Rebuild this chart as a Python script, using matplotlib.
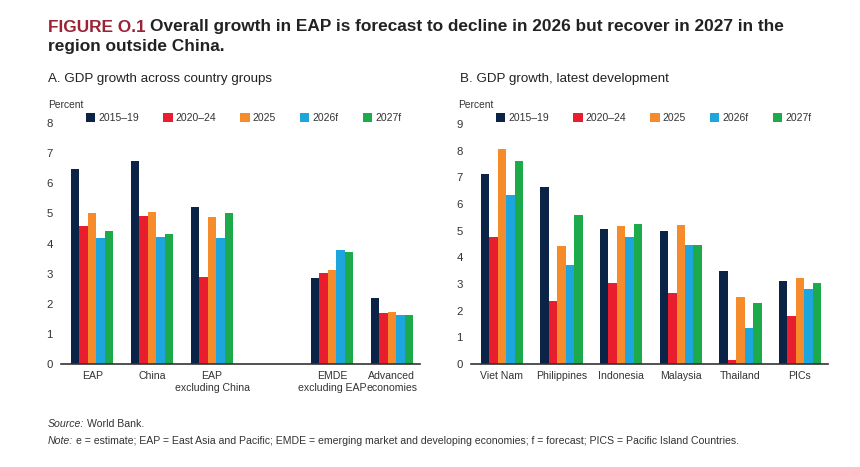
import matplotlib
matplotlib.use("Agg")
import matplotlib.pyplot as plt
import numpy as np

plt.rcParams["font.family"] = ["Liberation Sans", "DejaVu Sans"]

series = ["2015–19", "2020–24", "2025", "2026f", "2027f"]
colors = ["#0b2347", "#e81e2e", "#f58b2a", "#1da5de", "#1caa4b"]

# panel A
groups_a = ["EAP", "China", "EAP\nexcluding China", "EMDE\nexcluding EAP", "Advanced\neconomies"]
pos_a = [0, 1, 2, 4, 5]
a_1519 = [6.48, 6.75, 5.20, 2.85, 2.18]
a_2024 = [4.59, 4.91, 2.89, 3.02, 1.68]
a_2025 = [5.02, 5.04, 4.89, 3.11, 1.73]
a_2026 = [4.19, 4.21, 4.17, 3.77, 1.62]
a_2027 = [4.42, 4.32, 5.02, 3.71, 1.62]

# panel B
groups_b = ["Viet Nam", "Philippines", "Indonesia", "Malaysia", "Thailand", "PICs"]
b_1519 = [7.12, 6.63, 5.08, 4.98, 3.47, 3.12]
b_2024 = [4.78, 2.38, 3.02, 2.65, 0.15, 1.81]
b_2025 = [8.06, 4.43, 5.16, 5.23, 2.50, 3.24]
b_2026 = [6.33, 3.72, 4.76, 4.46, 1.34, 2.82]
b_2027 = [7.62, 5.59, 5.26, 4.48, 2.30, 3.05]

fig = plt.figure(figsize=(8.6, 4.67), dpi=100)
W, H = 860, 467


def px(x, y):
    return x / W, 1 - y / H


def draw_panel(rect, pos, data, labels, ymax, legend_xy, percent_xy):
    ax = fig.add_axes(rect)
    width = 0.142
    for i, vals in enumerate(data):
        ax.bar(np.array(pos) + (i - 2) * width, vals, width=width,
               color=colors[i], label=series[i], zorder=2)
    ax.set_ylim(0, ymax)
    ax.set_xlim(-0.52, pos[-1] + 0.47)
    ax.set_yticks(range(0, ymax + 1))
    ax.set_xticks(pos)
    ax.set_xticklabels(labels, linespacing=1.2)
    ax.tick_params(axis="both", length=0, labelsize=7.6, colors="#333333")
    ax.tick_params(axis="y", pad=6, labelsize=8.2)
    ax.tick_params(axis="x", pad=5)
    for s in ["left", "right", "top"]:
        ax.spines[s].set_visible(False)
    ax.spines["bottom"].set_color("#333333")
    ax.spines["bottom"].set_linewidth(1.2)
    ax.legend(loc="center left", bbox_to_anchor=px(*legend_xy),
              bbox_transform=fig.transFigure, ncol=5, frameon=False,
              fontsize=7.5, handlelength=0.9, handleheight=0.9,
              handletextpad=0.3, columnspacing=2.3, borderpad=0,
              borderaxespad=0, labelcolor="#333333")
    fig.text(*px(*percent_xy), "Percent", fontsize=7.4, color="#333333", va="center")
    return ax


draw_panel([61 / W, 1 - 364 / H, 359 / W, 241 / H], pos_a,
           [a_1519, a_2024, a_2025, a_2026, a_2027], groups_a, 8,
           (86, 118), (48, 105))
draw_panel([471 / W, 1 - 364 / H, 357 / W, 240 / H], list(range(6)),
           [b_1519, b_2024, b_2025, b_2026, b_2027], groups_b, 9,
           (496, 118), (458, 105))

# titles
t = fig.text(*px(48, 27), "FIGURE O.1", fontsize=12.4, fontweight="bold",
             color="#9b2335", va="center")
fig.canvas.draw()
bb = t.get_window_extent()
fig.text(bb.x1 / W + 4 / W, 1 - 27 / H,
         "Overall growth in EAP is forecast to decline in 2026 but recover in 2027 in the",
         fontsize=12.4, fontweight="bold", color="#222222", va="center")
fig.text(*px(48, 47), "region outside China.", fontsize=12.4, fontweight="bold",
         color="#222222", va="center")
fig.text(*px(48, 79), "A. GDP growth across country groups", fontsize=9.6,
         color="#222222", va="center")
fig.text(*px(460, 79), "B. GDP growth, latest development", fontsize=9.6,
         color="#222222", va="center")

# notes
s = fig.text(*px(48, 424), "Source:", fontsize=7.6, style="italic", color="#333333", va="center")
fig.canvas.draw()
sb = s.get_window_extent()
fig.text(sb.x1 / W + 3 / W, 1 - 424 / H, "World Bank.", fontsize=7.6, color="#333333", va="center")
n = fig.text(*px(48, 441), "Note:", fontsize=7.6, style="italic", color="#333333", va="center")
fig.canvas.draw()
nb = n.get_window_extent()
fig.text(nb.x1 / W + 3 / W, 1 - 441 / H,
         "e = estimate; EAP = East Asia and Pacific; EMDE = emerging market and developing economies; "
         "f = forecast; PICS = Pacific Island Countries.",
         fontsize=7.6, color="#333333", va="center")

fig.savefig("out.png", dpi=100)
